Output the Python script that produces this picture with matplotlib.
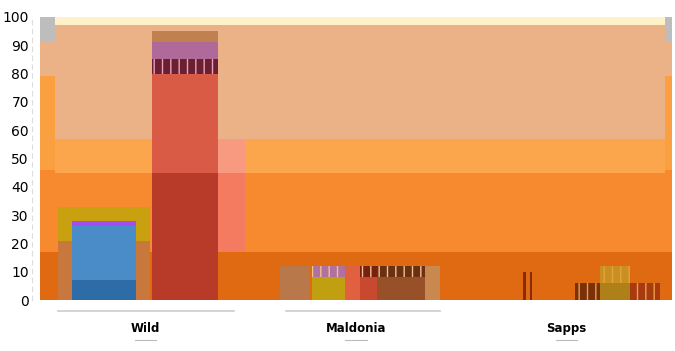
import matplotlib
matplotlib.use("Agg")
import matplotlib.pyplot as plt
import matplotlib.transforms as mtransforms

# categories on the x axis
categories = ["Wild", "Maldonia", "Sapps"]

# full-width background stack (bottom -> top), percent
background_values = [17, 28, 12, 40, 3]
background_colors = ["#E06A12", "#F7892F", "#FBA64D", "#EBB287", "#FFF1C8"]

# narrow edge strips at left / right of the plot
edge_values = [17, 29, 33, 12, 9]
edge_colors = ["#E06A12", "#F7892F", "#FBA040", "#EBB287", "#BDBDBD"]
edge_x = [-0.464, 2.483]
edge_w = [0.071, 0.034]

# "Wild" group
wild_back_values = [21, 12]
wild_back_colors = ["#C8783C", "#C8A010"]
wild_blue_values = [7, 19, 2]
wild_blue_colors = ["#2E6CA8", "#4A8CC8", "#A050F0"]
wild_red_values = [45, 35, 5, 6, 4]
wild_red_colors = ["#B83A28", "#D95A45", "#6A2030", "#B06A9A", "#C08050"]
wild_salmon_values = [17, 28, 12]
wild_salmon_colors = [None, "#F47A60", "#F89A80"]

# "Maldonia" group — small stacked bars
mal_x = [0.71, 0.869, 0.983, 1.059, 1.213, 1.363]
mal_w = [0.142, 0.157, 0.071, 0.081, 0.228, 0.071]
mal_low = [12, 8, 12, 8, 8, 12]
mal_high = [0, 4, 0, 4, 4, 0]
mal_low_colors = ["#B8784A", "#C0A010", "#E06040", "#C84830", "#985028", "#C88850"]
mal_high_colors = ["#B8784A", "#B070A0", "#E06040", "#7A2010", "#6A3010", "#C88850"]

# "Sapps" group
sap_x = [1.80, 1.83, 2.098, 2.229, 2.371]
sap_w = [0.012, 0.012, 0.119, 0.142, 0.142]
sap_low = [0, 0, 0, 6, 0]
sap_high = [10, 10, 6, 6, 6]
sap_low_colors = ["#E06A12", "#E06A12", "#E06A12", "#B08018", "#E06A12"]
sap_high_colors = ["#8A2A10", "#8A2A10", "#7A3008", "#C89020", "#A83A10"]

yticks = list(range(0, 101, 10))


def stack(ax, x, w, values, colors, z, hatch_idx=None):
    bottom = 0
    for i, (v, c) in enumerate(zip(values, colors)):
        if c is not None:
            kw = {}
            if i == hatch_idx:
                kw = dict(hatch="||", edgecolor="#E8A0C0")
            ax.bar(x, v, width=w, bottom=bottom, color=c, linewidth=0, zorder=z, **kw)
        bottom += v


fig = plt.figure(figsize=(6.75, 3.51), dpi=100)
ax = fig.add_axes([40 / 675, 51 / 351, 632 / 675, 283 / 351])

stack(ax, 1.0, 3.0, background_values, background_colors, 1)
for ex, ew in zip(edge_x, edge_w):
    stack(ax, ex, ew, edge_values, edge_colors, 2)

stack(ax, -0.196, 0.437, wild_back_values, wild_back_colors, 3)
stack(ax, -0.196, 0.30, wild_blue_values, wild_blue_colors, 4)
stack(ax, 0.188, 0.313, wild_red_values, wild_red_colors, 4, hatch_idx=2)
stack(ax, 0.409, 0.128, wild_salmon_values, wild_salmon_colors, 3)

for x, w, lo, hi, cl, ch in zip(mal_x, mal_w, mal_low, mal_high, mal_low_colors, mal_high_colors):
    ax.bar(x, lo, width=w, color=cl, linewidth=0, zorder=3)
    if hi:
        ax.bar(x, hi, width=w, bottom=lo, color=ch, edgecolor="#F0C090",
               hatch="||", linewidth=0, zorder=3)

for x, w, lo, hi, cl, ch in zip(sap_x, sap_w, sap_low, sap_high, sap_low_colors, sap_high_colors):
    if lo:
        ax.bar(x, lo, width=w, color=cl, linewidth=0, zorder=3)
    ax.bar(x, hi, width=w, bottom=lo, color=ch, edgecolor="#E8A040",
           hatch="||", linewidth=0, zorder=3)

ax.set_xlim(-0.5, 2.5)
ax.set_ylim(0, 100)
ax.set_yticks(yticks)
ax.set_yticklabels([str(t) for t in yticks], fontsize=7.5)
ax.tick_params(axis="y", length=0, pad=2)
ax.set_xticks(range(len(categories)))
ax.set_xticklabels(categories, fontsize=8.5, fontweight="bold")
ax.tick_params(axis="x", length=0, pad=16)
for side in ["top", "right", "bottom"]:
    ax.spines[side].set_visible(False)
ax.spines["left"].set_position(("outward", 6))
ax.spines["left"].set_color("#DDDDDD")
ax.spines["left"].set_linestyle((0, (4, 4)))

# group underlines below the axis
trans = mtransforms.blended_transform_factory(ax.transData, ax.transAxes)
for x0, x1 in [(-0.415, 0.42), (0.67, 1.40)]:
    ax.plot([x0, x1], [-0.04, -0.04], color="#CCCCCC", lw=1.2,
            transform=trans, clip_on=False)
for i in range(len(categories)):
    ax.plot([i - 0.05, i + 0.05], [-0.14, -0.14], color="#BBBBBB", lw=0.8,
            transform=trans, clip_on=False)

fig.savefig("out.png", dpi=100)
